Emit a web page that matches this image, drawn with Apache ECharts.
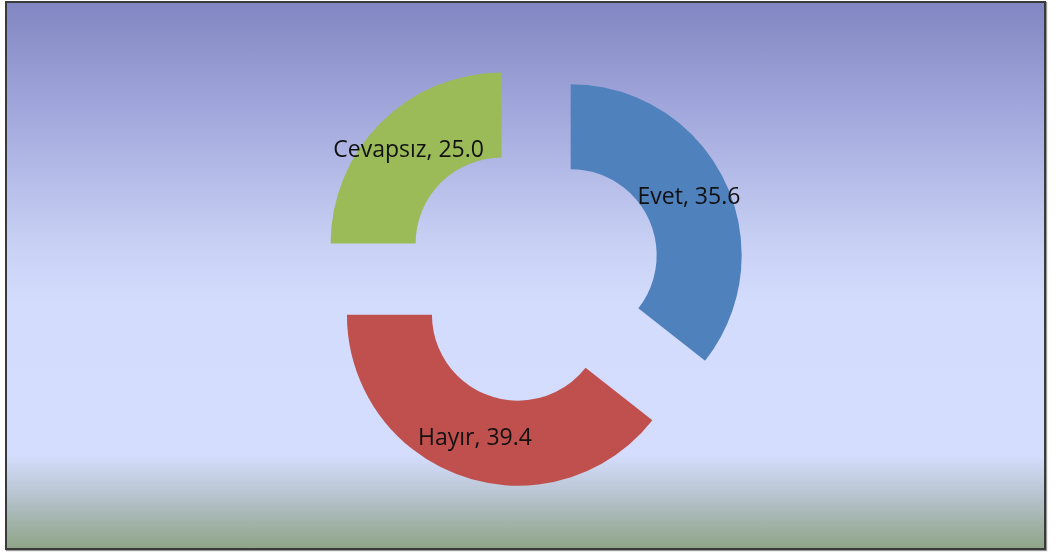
<!DOCTYPE html>
<html>
<head>
<meta charset="utf-8">
<script src="https://cdn.jsdelivr.net/npm/echarts@6/dist/echarts.min.js"></script>
<style>
  body { margin: 0; background: #ffffff; }
  #frame {
    position: absolute; left: 5px; top: 1px; width: 1041px; height: 549px;
    box-sizing: border-box; border: 2px solid #3a3a3a;
    box-shadow: 1px 1px 1px #999;
    background: linear-gradient(to bottom,
      #8286c2 0%, #a2a8dc 20%, #c9d2f5 45%, #d3dcfc 55%,
      #d4ddfd 83%, #b9c5d2 90%, #a3b4ac 95%, #8fa589 100%);
  }
  #chart { position: absolute; left: 0; top: 0; width: 1059px; height: 555px; }
</style>
</head>
<body>
<div id="frame"></div>
<div id="chart"></div>
<script>
// dilim verileri
var categories = ['Evet', 'Hayır', 'Cevapsız'];
var values = [35.6, 39.4, 25.0];
var colors = ['#4f81bd', '#c0504d', '#9bbb59'];

var pieData = [];
for (var i = 0; i < categories.length; i++) {
    pieData.push({
        name: categories[i],
        value: values[i],
        selected: true,
        itemStyle: { color: colors[i] }
    });
}

var myChart = echarts.init(document.getElementById('chart'));
myChart.setOption({
    animation: false,
    series: [
        {
            type: 'pie',
            center: [532, 274],
            radius: [86, 171],
            startAngle: 90,
            clockwise: true,
            selectedMode: 'multiple',
            selectedOffset: 43,
            avoidLabelOverlap: false,
            label: {
                show: true,
                position: 'inside',
                formatter: function (p) {
                    return p.name + ', ' + p.value.toFixed(1);
                },
                color: '#111111',
                fontFamily: 'Open Sans',
                fontSize: 23,
                padding: [10, 0, 0, 0]
            },
            labelLine: { show: false },
            emphasis: { disabled: true },
            data: pieData
        }
    ]
});
</script>
</body>
</html>
